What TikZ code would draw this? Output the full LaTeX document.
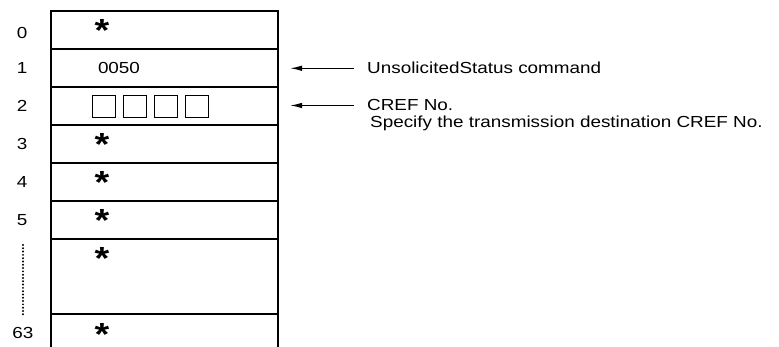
\documentclass[tikz,border=0pt]{standalone}
\usepackage{fontspec}
\setmainfont{Liberation Sans}
\newfontfamily\widefont[FakeStretch=1.18]{Liberation Sans}
\usetikzlibrary{positioning, arrows.meta}

\begin{document}
\begin{tikzpicture}[x=1pt, y=-1pt, >={Latex[length=12pt, width=5.5pt]},
  font=\widefont\fontsize{16}{19}\selectfont,
  cell/.style={draw, line width=1.8pt, rectangle, minimum width=227pt, minimum height=38pt, inner sep=0pt, outer sep=0pt},
  idx/.style={inner sep=0pt},
  starmark/.style={font=\widefont\bfseries\fontsize{32}{32}\selectfont, inner sep=0pt, anchor=base},
  slot/.style={draw, line width=0.9pt, minimum width=23pt, minimum height=22pt, inner sep=0pt},
  note/.style={inner sep=0pt, anchor=base west},
  pointer/.style={->, line width=1.3pt, shorten >=12pt, shorten <=13pt}]
  \useasboundingbox (0,0) rectangle (779,347);
  % memory rows
  \node[cell, anchor=north west] (r0) at (51,11) {};
  \node[cell, below=0pt of r0] (r1) {};
  \node[cell, below=0pt of r1] (r2) {};
  \node[cell, below=0pt of r2] (r3) {};
  \node[cell, below=0pt of r3] (r4) {};
  \node[cell, below=0pt of r4] (r5) {};
  \node[cell, below=0pt of r5, minimum height=75pt] (rgap) {};
  \node[cell, draw=none, below=0pt of rgap] (r63) {};
  \draw[line width=1.8pt] (r63.north west) -- ([yshift=-8pt]r63.south west);
  \draw[line width=1.8pt] (r63.north east) -- ([yshift=-8pt]r63.south east);
  % contents
  \foreach \r in {r0, r3, r4, r5, rgap, r63}
    \node[starmark] at ([xshift=-62.5pt, yshift=-31pt]\r.north) {*};
  \node (code) at ([xshift=-45.5pt]r1.center) {0050};
  \foreach \i in {0,...,3}
    \node[slot] (s\i) at ([xshift={(-60.5+31*\i)*1pt}]r2.center) {};
  % word numbers
  \node[idx] (n0) at ([xshift=-29pt, yshift=-2.5pt]r0.west) {0};
  \node[idx] (n1) at ([xshift=-29pt]r1.west) {1};
  \node[idx] (n2) at ([xshift=-29pt]r2.west) {2};
  \node[idx] (n3) at ([xshift=-29pt]r3.west) {3};
  \node[idx] (n4) at ([xshift=-29pt]r4.west) {4};
  \node[idx] (n5) at ([xshift=-29pt]r5.west) {5};
  \node[idx] (n63) at ([xshift=-28pt]r63.west) {63};
  \coordinate (dtop) at (23,245);
  \coordinate (dbot) at (23,315);
  \draw[line width=2.2pt, line cap=round, dash pattern=on 0pt off 3.3pt] (dtop) -- (dbot);
  % notes
  \node[note] (cmd) at (367,74) {UnsolicitedStatus command};
  \node[note] (cref) at (367,111) {CREF No.};
  \node[note] (spec) at ([xshift=3pt, yshift=-16.5pt]cref.base west) {Specify the transmission destination CREF No.};
  \draw[pointer] (cmd.west) -- (cmd.west -| r1.east);
  \draw[pointer] (cref.west) -- (cref.west -| r2.east);
\end{tikzpicture}
\end{document}
